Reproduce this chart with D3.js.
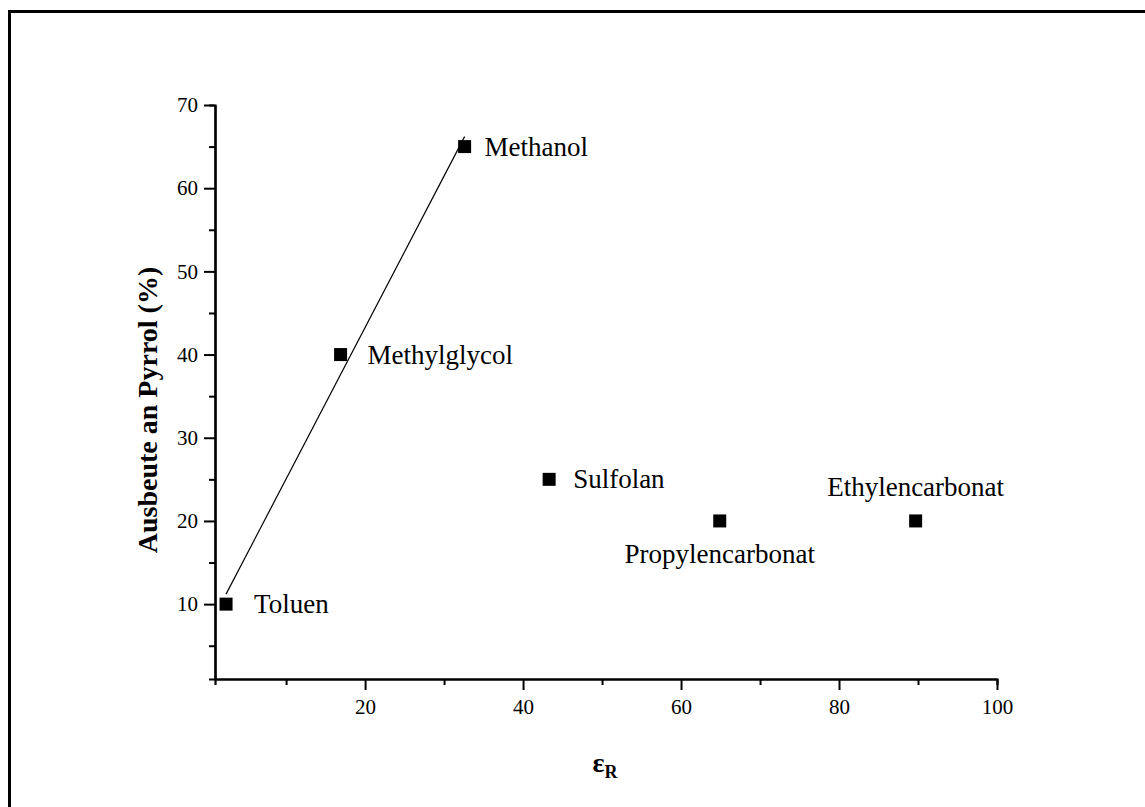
<!DOCTYPE html>
<html>
<head>
<meta charset="utf-8">
<script src="https://cdn.jsdelivr.net/npm/d3@7"></script>
<style>
  body { margin: 0; background: #fff; }
  text { font-family: "Liberation Serif", "Times New Roman", serif; fill: #000; }
</style>
</head>
<body>
<div id="chart"></div>
<script>
// solvents, dielectric constant eps_R vs. pyrrole yield
var solvents = ['Toluen', 'Methylglycol', 'Methanol', 'Sulfolan', 'Propylencarbonat', 'Ethylencarbonat'];
var epsR = [2.4, 16.9, 32.6, 43.3, 64.9, 89.7];
var yieldPct = [10, 40, 65, 25, 20, 20];
// fitted line through the first three solvents (end points)
var fitX = [2.4, 32.6];
var fitY = [11.2, 66.2];
var xMajor = [20, 40, 60, 80, 100];
var xMinor = [10, 30, 50, 70, 90];
var yMajor = [10, 20, 30, 40, 50, 60, 70];
var yMinor = [5, 15, 25, 35, 45, 55, 65];

var width = 1145, height = 807;
var svg = d3.select('#chart').append('svg')
    .attr('width', width).attr('height', height);

// frame around the figure
svg.append('rect')
    .attr('x', 9.5).attr('y', 11.5)
    .attr('width', 1150).attr('height', 820)
    .attr('fill', 'none').attr('stroke', '#000').attr('stroke-width', 3);

var x = d3.scaleLinear().domain([1, 100]).range([215, 997]);
var y = d3.scaleLinear().domain([1, 70]).range([679, 105]);

function styleAxis(g) {
    g.select('.domain').attr('stroke-width', 2.2);
    g.selectAll('.tick line').attr('stroke-width', 2);
    g.selectAll('text')
	.style('font-family', '"Liberation Serif", serif')
	.style('font-size', '21px');
}

// minor ticks first
svg.append('g')
    .attr('transform', 'translate(0,' + y.range()[0] + ')')
    .call(d3.axisBottom(x).tickValues(xMinor).tickSize(6).tickFormat(''))
    .call(styleAxis);
svg.append('g')
    .attr('transform', 'translate(' + x.range()[0] + ',0)')
    .call(d3.axisLeft(y).tickValues(yMinor).tickSize(6).tickFormat(''))
    .call(styleAxis);

svg.append('g')
    .attr('transform', 'translate(0,' + y.range()[0] + ')')
    .call(d3.axisBottom(x).tickValues(xMajor).tickSize(11).tickSizeOuter(0).tickPadding(9))
    .call(styleAxis);
svg.append('g')
    .attr('transform', 'translate(' + x.range()[0] + ',0)')
    .call(d3.axisLeft(y).tickValues(yMajor).tickSize(11).tickSizeOuter(0).tickPadding(6))
    .call(styleAxis);

// axis titles
svg.append('text')
    .attr('transform', 'translate(157,410) rotate(-90)')
    .attr('text-anchor', 'middle')
    .style('font-size', '28px').style('font-weight', 'bold')
    .text('Ausbeute an Pyrrol (%)');

var xt = svg.append('text')
    .attr('x', 605).attr('y', 772)
    .attr('text-anchor', 'middle')
    .style('font-weight', 'bold');
xt.append('tspan').style('font-size', '28px').text('ε');
xt.append('tspan').style('font-size', '18px').attr('dy', 6).text('R');

// fit line
svg.append('path')
    .datum(d3.range(fitX.length))
    .attr('fill', 'none')
    .attr('stroke', '#000')
    .attr('stroke-width', 1.2)
    .attr('d', d3.line().x(i => x(fitX[i])).y(i => y(fitY[i])));

// markers
var pts = d3.range(solvents.length);
svg.selectAll('rect.pt').data(pts).enter().append('rect')
    .attr('class', 'pt')
    .attr('x', i => x(epsR[i]) - 6.5)
    .attr('y', i => y(yieldPct[i]) - 6.5)
    .attr('width', 13).attr('height', 13)
    .attr('fill', '#000');

// labels: offsets relative to the marker
var labelDx = [28, 27, 20, 24, 0, 0];
var labelDy = [9, 9, 9, 9, 42, -25];
var labelAnchor = ['start', 'start', 'start', 'start', 'middle', 'middle'];
svg.selectAll('text.lbl').data(pts).enter().append('text')
    .attr('class', 'lbl')
    .attr('x', i => x(epsR[i]) + labelDx[i])
    .attr('y', i => y(yieldPct[i]) + labelDy[i])
    .attr('text-anchor', i => labelAnchor[i])
    .style('font-size', '27px')
    .text(i => solvents[i]);
</script>
</body>
</html>
